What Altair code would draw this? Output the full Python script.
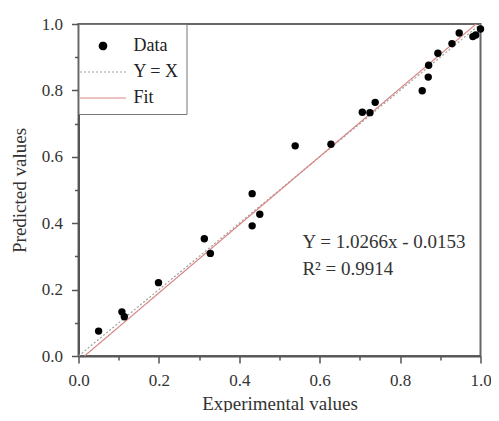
import altair as alt
import pandas as pd

# ---- data ----
exp_x = [0.050, 0.108, 0.114, 0.199, 0.313, 0.328, 0.432, 0.432, 0.451, 0.539,
         0.628, 0.706, 0.725, 0.738, 0.855, 0.870, 0.871, 0.894, 0.929, 0.947,
         0.981, 0.988, 1.000]
pred_y = [0.075, 0.133, 0.118, 0.221, 0.353, 0.309, 0.392, 0.489, 0.427, 0.633,
          0.638, 0.734, 0.733, 0.764, 0.799, 0.840, 0.876, 0.912, 0.941, 0.973,
          0.962, 0.967, 0.985]
series_names = ["Data", "Y = X", "Fit"]
series_colors = ["#000000", "#a0a0a0", "#d98585"]
fit_slope = 1.0266
fit_intercept = -0.0153
annot_text = ["Y = 1.0266x - 0.0153", "R\u00b2 = 0.9914"]
annot_x = [0.557, 0.557]
annot_y = [0.325, 0.244]
tick_vals = [0.0, 0.1, 0.2, 0.3, 0.4, 0.5, 0.6, 0.7, 0.8, 0.9, 1.0]

FONT = "Liberation Serif"

pts = pd.DataFrame({"x": exp_x, "y": pred_y, "series": "Data"})
yx = pd.DataFrame({"x": [0.0, 1.0], "y": [0.0, 1.0], "series": "Y = X"})
x0 = -fit_intercept / fit_slope
fit = pd.DataFrame({"x": [x0, 1.0],
                    "y": [fit_slope * x0 + fit_intercept, fit_slope * 1.0 + fit_intercept],
                    "series": "Fit"})
ann = pd.DataFrame({"x": annot_x, "y": annot_y, "t": annot_text})

minor_test = "round(datum.value*10) % 2 == 1"
lab_expr = "round(datum.value*10) % 2 == 0 ? format(datum.value, '.1f') : ''"


def mk_axis(title, title_pad, label_pad):
    return alt.Axis(
        title=title, values=tick_vals, labelExpr=lab_expr, grid=False,
        labelFlush=False, labelOverlap=False,
        tickSize={"condition": {"test": minor_test, "value": 4}, "value": 7},
        tickColor="#555", tickWidth=1.5, domainColor="#555", domainWidth=2,
        labelFont=FONT, labelFontSize=17, labelColor="#333", labelPadding=label_pad,
        titleFont=FONT, titleFontSize=19, titleColor="#333", titleFontWeight="normal",
        titlePadding=title_pad,
    )


xs = alt.X("x:Q", scale=alt.Scale(domain=[0, 1], nice=False), axis=mk_axis("Experimental values", 6, 9))
ys = alt.Y("y:Q", scale=alt.Scale(domain=[0, 1], nice=False), axis=mk_axis("Predicted values", 12, 9))

line_path = "M-6.2,0H6.2"

legend = alt.Legend(
    title=" ", titleFontSize=2, titlePadding=4,
    orient="none", legendX=0, legendY=0, direction="vertical",
    strokeColor="#777", fillColor="white", padding=7,
    symbolSize=55, symbolStrokeWidth=1.2, symbolOffset=8.5, labelOffset=21.5, rowPadding=8,
    labelFont=FONT, labelFontSize=18, labelColor="#222",
)

color = alt.Color("series:N", scale=alt.Scale(domain=series_names, range=series_colors), legend=legend)
shape = alt.Shape("series:N", scale=alt.Scale(domain=series_names, range=["circle", line_path, line_path]),
                  legend=legend)
dash = alt.StrokeDash("series:N", scale=alt.Scale(domain=series_names, range=[[1, 0], [2, 2], [1, 0]]),
                      legend=legend)

l_yx = alt.Chart(yx).mark_line(strokeWidth=1.2, clip=True).encode(x=xs, y=ys, color=color, strokeDash=dash)
l_fit = alt.Chart(fit).mark_line(strokeWidth=1.2, clip=True).encode(x=xs, y=ys, color=color, strokeDash=dash)
l_pts = alt.Chart(pts).mark_point(filled=True, size=55, opacity=1).encode(x=xs, y=ys, color=color, shape=shape)
l_txt = alt.Chart(ann).mark_text(align="left", baseline="alphabetic", font=FONT, fontSize=19, color="#333").encode(
    x=xs, y=ys, text="t:N")

chart = alt.layer(l_yx, l_fit, l_pts, l_txt).properties(
    width=402, height=332,
    autosize=alt.AutoSizeParams(type="none"),
    padding={"left": 70.5, "top": 16, "right": 10.5, "bottom": 56},
).configure_view(stroke="#666", strokeWidth=2)

chart.save("out.html", embed_options={"renderer": "svg", "actions": False})
